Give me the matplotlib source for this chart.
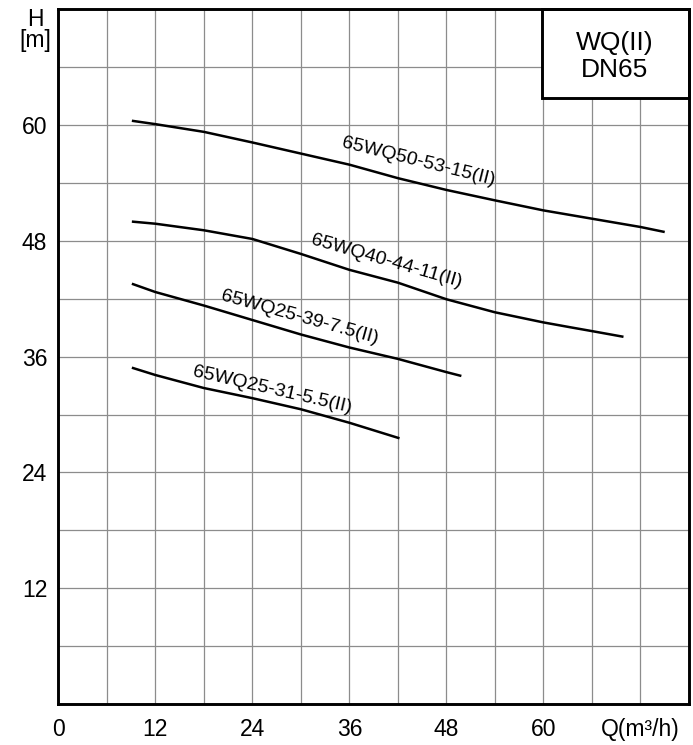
import matplotlib
matplotlib.use("Agg")
import matplotlib.pyplot as plt
from matplotlib.patches import Rectangle
import numpy as np

plt.rcParams['font.family'] = ['Liberation Sans', 'DejaVu Sans']

# Pump performance curves: flow Q (m3/h) vs head H (m)
q_50_53 = [9.1, 12, 18, 24, 30, 36, 42, 48, 54, 60, 66, 72, 75]
h_50_53 = [60.45, 60.1, 59.3, 58.2, 57.05, 55.9, 54.5, 53.28, 52.2, 51.16, 50.3, 49.44, 48.92]

q_40_44 = [9.1, 12, 18, 24, 30, 36, 42, 48, 54, 60, 63.3, 66, 69.9]
h_40_44 = [50.0, 49.78, 49.1, 48.2, 46.65, 45.0, 43.67, 41.95, 40.6, 39.55, 39.05, 38.65, 38.06]

q_25_39 = [9.1, 12, 18, 24, 30, 36, 42, 48, 49.85]
h_25_39 = [43.56, 42.7, 41.3, 39.8, 38.3, 36.95, 35.77, 34.4, 34.0]

q_25_31 = [9.1, 12, 18, 24, 30, 36, 42.2]
h_25_31 = [34.86, 34.1, 32.75, 31.7, 30.55, 29.15, 27.54]

series = [
    ("65WQ50-53-15(II)", q_50_53, h_50_53, (44.5, 56.2), -14),
    ("65WQ40-44-11(II)", q_40_44, h_40_44, (40.6, 45.9), -16),
    ("65WQ25-39-7.5(II)", q_25_39, h_25_39, (29.8, 40.1), -15.5),
    ("65WQ25-31-5.5(II)", q_25_31, h_25_31, (26.4, 32.5), -13),
]

x_ticks = [0, 12, 24, 36, 48, 60]
y_ticks = [12, 24, 36, 48, 60]

fig = plt.figure(figsize=(6.93, 7.45), dpi=100)
ax = fig.add_axes([0.0841, 0.055, 0.9101, 0.9325])
ax.set_xlim(0, 78)
ax.set_ylim(0, 72)

# grid every 6 units
for gx in np.arange(6, 78, 6):
    ax.axvline(gx, color='#8c8c8c', lw=0.9, zorder=1)
for gy in np.arange(6, 72, 6):
    ax.axhline(gy, color='#8c8c8c', lw=0.9, zorder=1)

for name, q, h, (lx, ly), rot in series:
    ax.plot(q, h, color='black', lw=1.8, zorder=3, solid_capstyle='butt',
            solid_joinstyle='round')
    ax.text(lx, ly, name, rotation=rot, rotation_mode='anchor',
            ha='center', va='center', fontsize=14, color='black', zorder=4)

ax.set_xticks(x_ticks + [72])
ax.set_xticklabels([str(v) for v in x_ticks] + ['Q(m³/h)'], fontsize=16.5)
ax.set_yticks(y_ticks)
ax.set_yticklabels([str(v) for v in y_ticks], fontsize=16.5)
ax.tick_params(length=0)
ax.tick_params(axis='y', pad=8)
ax.tick_params(axis='x', pad=10)

for sp in ax.spines.values():
    sp.set_linewidth(2.1)
    sp.set_color('black')
    sp.set_zorder(6)

# model / size box in the top right corner
box = Rectangle((0.7665, 0.8723), 0.2335, 0.1277, transform=ax.transAxes,
                facecolor='white', edgecolor='black', lw=2.1, zorder=5,
                clip_on=False)
ax.add_patch(box)
ax.text(0.8827, 0.9414, "WQ(II)", transform=ax.transAxes, ha='center',
        va='baseline', fontsize=19, zorder=6)
ax.text(0.8827, 0.9026, "DN65", transform=ax.transAxes, ha='center',
        va='baseline', fontsize=19, zorder=6)

# vertical axis caption
fig.text(35 / 693, 1 - 30 / 745, "H\n[m]", ha='center', va='center',
         multialignment='center', fontsize=16.5, linespacing=0.9)

fig.savefig("out.png", dpi=100)
